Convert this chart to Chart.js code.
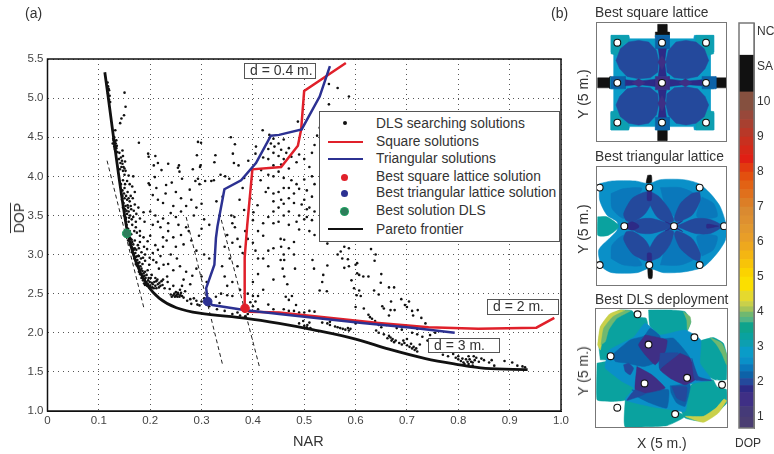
<!DOCTYPE html>
<html lang="en">
<head>
<meta charset="UTF-8">
<title>NAR vs DOP</title>
<style>
    body { margin: 0; background: #fff; font-family: "Liberation Sans", Arial, sans-serif; color: #333; }
    #page { position: relative; width: 774px; height: 454px; overflow: hidden; }
    canvas { position: absolute; }
    .txt { position: absolute; white-space: nowrap; font-size: 14px; line-height: 16px; }
    .rot { transform: translate(-50%, -50%) rotate(-90deg); }
    .panel-frame { position: absolute; border: 1px solid #777; box-sizing: border-box; pointer-events: none; }
    .note { position: absolute; box-sizing: border-box; background: #fff; border: 1.5px solid #555; font-size: 14px; line-height: 13px; padding-left: 5px; white-space: nowrap; }
    #legend { position: absolute; left: 319px; top: 111px; width: 241px; height: 131px; box-sizing: border-box; background: #fff; border: 1px solid #555; }
    #legend .txt { left: 56px; font-size: 13.8px; }
    #legend .dot { position: absolute; left: 21px; width: 7px; height: 7px; border-radius: 50%; }
    #legend .ln { position: absolute; left: 8px; width: 35px; height: 2px; }
</style>
</head>
<body>
<div id="page">
    <canvas id="mainChart" width="572" height="454" style="left:0;top:0"></canvas>
    <canvas id="squareMap" width="130" height="119" style="left:597px;top:23px"></canvas>
    <canvas id="triMap" width="130" height="118" style="left:597px;top:167px"></canvas>
    <canvas id="dlsMap" width="131" height="118" style="left:596px;top:309px"></canvas>
    <canvas id="colorBar" width="39" height="454" style="left:735px;top:0"></canvas>
    <div class="panel-frame" style="left:596px;top:22px;width:131px;height:120px"></div>
    <div class="panel-frame" style="left:596px;top:166px;width:131px;height:120px"></div>
    <div class="panel-frame" style="left:595px;top:308px;width:133px;height:120px"></div>

    <div class="txt" style="left:25px;top:5px;font-size:14px">(a)</div>
    <div class="txt" style="left:551px;top:5px;font-size:14px">(b)</div>
    <div class="txt rot" style="left:19px;top:218px;text-decoration:overline">DOP</div>
    <div class="txt" style="left:293px;top:433px;font-size:14.5px">NAR</div>

    <div class="note" style="left:244px;top:63px;width:72px;height:16px">d = 0.4 m.</div>
    <div class="note" style="left:487px;top:299px;width:72px;height:16px">d = 2 m.</div>
    <div class="note" style="left:428px;top:338px;width:72px;height:15px">d = 3 m.</div>

    <div id="legend">
        <div class="dot" style="left:23px;top:9px;width:4px;height:4px;background:#111"></div>
        <div class="txt" style="top:4px">DLS searching solutions</div>
        <div class="ln" style="top:29px;background:#e0202a"></div>
        <div class="txt" style="top:22px">Square solutions</div>
        <div class="ln" style="top:46px;background:#2c3192"></div>
        <div class="txt" style="top:39px">Triangular solutions</div>
        <div class="dot" style="top:62px;background:#e0202a"></div>
        <div class="txt" style="top:57px">Best square lattice solution</div>
        <div class="dot" style="top:78px;background:#2c3192"></div>
        <div class="txt" style="top:73px">Best triangular lattice solution</div>
        <div class="dot" style="top:96px;background:#2e7d5b;box-shadow:0 0 0 1px #1ba15f"></div>
        <div class="txt" style="top:91px">Best solution DLS</div>
        <div class="ln" style="top:116px;background:#111"></div>
        <div class="txt" style="top:110px">Pareto frontier</div>
    </div>

    <div class="txt" style="left:595px;top:5px;font-size:13.8px">Best square lattice</div>
    <div class="txt" style="left:595px;top:149px;font-size:13.8px">Best triangular lattice</div>
    <div class="txt" style="left:595px;top:292px;font-size:13.8px">Best DLS deployment</div>
    <div class="txt rot" style="left:583px;top:94px">Y (5 m.)</div>
    <div class="txt rot" style="left:583px;top:229px">Y (5 m.)</div>
    <div class="txt rot" style="left:583px;top:371px">Y (5 m.)</div>
    <div class="txt" style="left:637px;top:435px">X (5 m.)</div>
    <div class="txt" style="left:735px;top:435px;font-size:12px">DOP</div>
</div>

<script src="https://cdn.jsdelivr.net/npm/chart.js"></script>
<script>
// panel (a): everything is [NAR, mean DOP]
const squareLine = [[.581,5.45],[.4998,5.09],[.494,4.6],[.4876,4.39],[.455,4.12],[.399,4.09],[.389,3.38],[.384,2.96],[.384,2.32],[.393,2.27],[.451,2.26],[.645,2.125],[.742,2.07],[.839,2.05],[.952,2.065],[.987,2.19]];
const triangleLine = [[.55,5.41],[.53,5.02],[.495,4.6],[.451,4.53],[.435,4.52],[.406,4.17],[.377,3.95],[.3445,3.835],[.331,3.36],[.328,3.21],[.325,2.87],[.309,2.57],[.312,2.4],[.321,2.355],[.383,2.29],[.451,2.24],[.6126,2.125],[.7096,2.065],[.793,2]];
const paretoLine = [[.1116,5.33],[.1537,3.357],[.172,2.91],[.1925,2.63],[.218,2.44],[.251,2.32],[.296,2.25],[.3866,2.185],[.451,2.12],[.516,2.04],[.6,1.92],[.665,1.79],[.736,1.67],[.794,1.6],[.8525,1.545],[.935,1.53]];
const dashedLines = [
    [[.116,4.2],[.188,2.31]],
    [[.27,3.48],[.341,1.59]],
    [[.335,3.53],[.4125,1.57]]
];
const bestSquare = [[.3847,2.313]];
const bestTriangle = [[.312,2.4]];
const bestDls = [[.1543,3.27]];

const dlsUpper = [[.117,5.2],[.118,5.15],[.119,5.12],[.12,5.1],[.118,5.06],[.121,5.03],[.12,4.98],[.122,4.95],[.15,5.07],[.152,4.89],[.149,4.78],[.144,4.74],[.1415,4.68],[.132,4.59],[.13,4.5],[.129,4.46],[.131,4.44],[.133,4.42],[.13,4.38],[.134,4.36],[.132,4.33],[.136,4.31],[.128,4.48],[.127,4.42],[.131,4.35],[.134,4.46],[.135,4.39],[.146,4.33],[.147,4.26],[.145,4.2],[.142,4.17],[.148,4.12],[.15,4.1],[.143,4.24],[.14,4.3],[.139,4.22],[.144,4.12],[.146,4.16],[.141,4.09],[.147,4.07],[.151,4.19],[.152,4.07],[.15,4.02],[.158,4.01],[.167,4.0],[.155,3.94],[.16,3.9],[.165,3.87],[.146,3.82],[.15,3.85],[.156,3.8],[.162,3.75],[.17,3.8],[.146,3.75],[.15,3.72],[.155,3.7],[.16,3.68],[.166,3.72],[.148,3.66],[.152,3.62],[.157,3.6],[.163,3.58],[.17,3.64],[.177,3.6],[.15,3.55],[.155,3.52],[.161,3.5],[.167,3.48],[.173,3.52],[.18,3.46],[.152,3.45],[.158,3.42],[.165,3.38],[.172,3.42],[.187,3.54],[.189,3.42],
    [.147,3.6],[.149,3.5],[.151,3.58],[.153,3.47],[.154,3.56],[.156,3.63],[.158,3.55],[.159,3.47],[.162,3.62],[.164,3.45],[.168,3.56],[.145,3.7],[.149,3.78],[.153,3.75],[.158,3.72],[.143,3.9],[.147,3.95],[.151,3.9]];
const dlsKnee = [[.154,3.38],[.157,3.33],[.16,3.3],[.163,3.26],[.158,3.24],[.162,3.2],[.165,3.16],[.16,3.13],[.164,3.1],[.168,3.06],[.165,3.03],[.168,3.0],[.172,2.97],[.169,2.95],[.173,2.92],[.176,2.89],[.174,2.86],[.178,2.83],[.181,2.8],[.178,2.78],[.183,2.75],[.186,2.72],[.183,2.7],[.189,2.68],[.193,2.65],[.188,2.63],[.196,2.62],[.2,2.6],[.204,2.58],[.21,2.6],[.215,2.62],[.22,2.6],[.212,2.66],[.203,2.64],[.197,2.7],[.19,2.78],[.195,2.8],[.203,2.74],[.185,2.88],[.19,2.92],[.198,2.87],[.178,2.98],[.183,3.03],[.19,3.0],[.176,3.12],[.18,3.16],[.17,3.18],[.174,3.28],[.169,3.3],[.18,3.3],[.187,3.22],[.195,3.17],[.2,3.24],[.21,3.12],[.205,3.02],[.215,3.06],[.225,3.1],[.22,2.98],[.212,2.9],[.206,2.93],[.217,2.82],[.226,2.87],[.233,2.72],[.225,2.68],[.234,2.65],[.228,2.57],[.238,2.56],[.245,2.6],[.24,2.49],[.245,2.48],[.25,2.47],[.255,2.49],[.26,2.51],[.257,2.46],[.262,2.47],[.25,2.52],[.265,2.45],[.258,2.55],[.268,2.53],[.262,2.6],[.272,2.41],[.278,2.43],[.28,2.37],[.285,2.44],[.29,2.41],[.296,2.35],[.3,2.4],[.305,2.44],[.31,2.36],[.292,2.36],[.315,2.34],[.328,2.46],[.335,2.38],[.338,2.5],[.35,2.48],[.36,2.47],[.33,2.3],[.345,2.28],[.36,2.24],[.375,2.22],[.385,2.21],[.39,2.24],[.37,2.26],[.395,2.39],[.4,2.47],[.405,2.4],[.39,2.5],[.41,2.47],[.4,2.34],[.41,2.3],[.43,2.36],[.44,2.3],
    [.157,3.18],[.16,3.22],[.162,3.14],[.164,3.19],[.166,3.08],[.167,3.13],[.17,3.08],[.171,3.02],[.173,3.06],[.175,2.98],[.172,2.88],[.175,2.93],[.177,2.86],[.179,2.9],[.181,2.85],[.18,2.75],[.183,2.82],[.185,2.79],[.187,2.76],[.189,2.73],[.186,2.67],[.191,2.7],[.193,2.74],[.196,2.67],[.199,2.65],[.201,2.7],[.205,2.62],[.208,2.65],[.21,2.7],[.214,2.68],[.218,2.64],[.222,2.66],[.19,2.61],[.194,2.6],[.198,2.58],[.207,2.57],[.212,2.57],[.217,2.58],[.224,2.61],[.178,3.08],[.182,2.95],[.186,2.96],[.18,3.24],[.172,3.35],[.188,3.1],[.194,3.07],[.199,2.96],[.247,2.5],[.252,2.49],[.248,2.46],[.253,2.46],[.242,2.46],[.259,2.48],[.254,2.51]];
const dlsCloud = [[.178,4.43],[.196,4.29],[.197,4.25],[.21,4.26],[.207,4.14],[.215,4.17],[.235,4.16],[.222,4.08],[.209,3.99],[.197,3.91],[.199,3.89],[.212,3.85],[.231,3.89],[.242,3.92],[.256,4.14],[.254,4.11],[.257,4.06],[.262,3.97],[.293,4.44],[.299,4.43],[.291,4.27],[.298,4.14],[.297,4.12],[.283,4.09],[.293,3.97],[.288,3.94],[.277,3.83],[.296,3.9],[.307,3.94],[.319,3.94],[.324,3.95],[.327,4.27],[.325,4.18],[.337,4.02],[.346,4],[.357,4.5],[.365,4.41],[.361,4.29],[.363,4.17],[.372,4.14],[.391,4.2],[.383,3.98],[.354,3.97],[.341,3.74],[.329,3.68],[.374,3.7],[.383,3.57],[.335,3.5],[.358,3.5],[.364,3.48],[.419,4.59],[.432,4.53],[.406,4.38],[.405,4.29],[.416,4.08],[.409,3.63],[.401,3.54],
    [.2,3.55],[.21,3.5],[.215,3.42],[.225,3.46],[.235,3.4],[.205,3.38],[.22,3.35],[.24,3.53],[.25,3.48],[.255,3.38],[.27,3.35],[.275,3.3],[.28,3.7],[.26,3.72],[.27,3.62],[.29,3.6],[.285,3.5],[.3,3.65],[.305,3.45],[.315,3.38],[.3,3.33],[.295,3.24],[.28,3.18],[.265,3.13],[.25,3.1],[.245,3.22],[.26,3.25],[.235,3.3],[.232,3.18],[.225,3.22],[.24,3.0],[.252,2.95],[.235,2.88],[.245,2.8],[.258,2.85],[.27,2.78],[.282,2.73],[.29,2.82],[.265,2.68],[.278,2.62],[.3,2.72],[.31,2.65],[.305,3.0],[.315,2.95],[.29,3.05],[.35,3.25],[.36,3.15],[.345,3.1],[.355,2.95],[.37,2.85],[.34,2.85],[.345,2.72],[.36,2.65],[.375,3.1],[.38,3.02],[.365,3.35],[.375,2.55],[.35,2.6],
    [.41,3.3],[.42,3.24],[.4,3.15],[.405,3.05],[.41,2.95],[.43,3.05],[.44,3.08],[.42,2.95],[.43,2.85],[.41,2.75],[.4,2.65],[.44,2.68],[.42,2.55],[.455,3.1],[.46,3],
    [.44,4.48],[.45,4.42],[.46,4.47],[.47,4.36],[.43,4.35],[.44,4.3],[.45,4.26],[.46,4.22],[.42,4.24],[.43,4.22],[.45,4.06],[.44,4.0],[.46,3.98],[.43,4.02],[.47,4.1],[.475,3.95],[.485,3.9],[.49,3.84],[.46,3.85],[.45,3.8],[.44,3.78],[.43,3.85],[.425,3.8],[.47,3.72],[.48,3.66],[.46,3.65],[.45,3.6],[.44,3.55],[.47,3.55],[.49,3.5],[.5,3.45],[.43,3.48],[.45,3.42],[.47,3.38],[.49,3.32],[.51,3.3],[.52,3.25],[.505,3.48],[.515,3.44],[.52,3.55],[.51,3.6],[.5,3.7],[.515,3.74],[.505,3.82],[.52,3.9],[.5,3.96],[.515,4.0],[.51,4.12],[.5,4.22],[.49,4.28],[.515,4.3],[.52,4.4],[.525,4.52],[.53,4.62],[.548,5.18],[.565,5.13],[.587,5.02],[.548,4.92],[.4876,4.7],[.38,3.85],[.395,3.72],[.415,3.95],[.4,3.44],[.42,3.4],
    [.435,4.42],[.442,4.38],[.455,4.34],[.465,4.3],[.475,4.25],[.485,4.18],[.44,4.14],[.455,4.15],[.47,3.85],[.48,3.78],[.455,3.7],[.44,3.68],[.495,3.64],[.505,3.58],[.485,3.42],[.46,3.5],[.44,3.4],[.36,3.4],[.385,3.3],[.39,3.2],[.37,3.2],[.225,3.66],[.245,3.62],[.26,3.55],[.215,3.7],[.205,3.76],[.23,3.78],[.25,3.8],
    [.454,3.2],[.461,3.19],[.48,3.16],[.47,3.08],[.48,3],[.454,2.93],[.461,2.93],[.516,2.93],[.519,2.82],[.482,2.82],[.458,2.82],[.461,2.72],[.467,2.62],[.464,2.46],[.476,2.47],[.47,2.42],[.484,2.355],[.545,3.14],[.571,3.04],[.578,3.1],[.587,3.08],[.565,3],[.574,2.95],[.585,2.94],[.545,2.86],[.578,2.83],[.587,2.85],[.603,2.89],[.6,2.87],[.537,2.74],[.535,2.65],[.53,2.54],[.544,2.53],[.603,2.76],[.607,2.74],[.615,2.72],[.625,2.72],[.592,2.67],[.597,2.57],[.607,2.54],[.602,2.48],[.61,2.47],[.6,2.33],[.616,2.31],[.63,3.07],[.639,3],[.637,2.92],[.65,2.75],[.649,2.64],[.636,2.54],[.645,2.49],[.665,2.58],[.675,2.58],[.669,2.4],[.652,2.34],[.655,2.31],[.668,2.29],[.676,2.29],[.665,2.22],[.689,2.43],[.696,2.355],[.704,2.4],[.7,2.33],[.721,2.29],[.71,2.28],[.712,2.22],[.728,2.19],[.736,2.12]];
const dlsLower = [[.46,2.3],[.47,2.28],[.48,2.28],[.49,2.26],[.5,2.26],[.51,2.28],[.52,2.27],[.49,2.12],[.5,2.09],[.505,2.07],[.51,2.13],[.498,2.15],[.506,2.1],[.512,2.06],[.535,2.13],[.545,2.12],[.55,2.1],[.56,2.08],[.565,2.07],[.575,2.05],[.58,2.04],[.587,2.03],[.585,2.06],[.57,2.06],[.55,2.14],[.59,2.05],[.6,2.12],[.61,2.14],[.625,2.23],[.628,2.2],[.632,2.18],[.638,2.15],[.645,2.1],[.64,2.03],[.645,2.0],[.65,2.07],[.655,1.98],[.662,1.93],[.67,1.9],[.675,1.88],[.665,1.96],[.685,1.87],[.69,1.85],[.693,1.9],[.7,1.92],[.705,1.82],[.71,1.8],[.715,1.78],[.72,1.76],[.725,1.85],[.72,1.98],[.73,1.95],[.74,1.9],[.745,1.97],[.755,2.0],[.76,1.8],[.77,1.72],[.78,1.7],[.79,1.73],[.795,1.68],[.8,1.66],[.805,1.64],[.81,1.62],[.82,1.6],[.825,1.63],[.83,1.7],[.82,1.7],[.815,1.66],[.828,1.58],[.835,1.68],[.845,1.67],[.85,1.65],[.86,1.62],[.87,1.58],[.865,1.65],[.89,1.64],[.905,1.62],[.915,1.58],[.925,1.57],[.93,1.56],[.72,2.05],[.71,2.0],[.69,2.04],[.68,2.06],[.66,2.1],
    [.668,1.94],[.672,1.92],[.678,1.9],[.695,1.87],[.7,1.84],[.708,1.86],[.713,1.82],[.718,1.8],[.8,1.7],[.808,1.67],[.812,1.6],[.818,1.63],[.822,1.66],[.828,1.62],[.832,1.65],[.84,1.63]];

// colour scale of panel (b): DOP band limits and the colour of each band
const barBands = [.686,1,1.3,1.7,1.9,2.1,2.3,2.5,2.7,3,3.2,3.4,3.7,3.85,4,4.15,4.3,4.6,5,5.25,5.5,5.75,6,6.25,6.5,6.75,7,7.25,7.5,7.75,8,8.25,8.5,8.75,9,9.25,9.5,9.75,10.29,11.34,12.26];
const barColors = ['#4a3d72','#453a78','#3f2f85','#2d2a86','#24499c','#0d62a8','#0a78bb','#0a90c8','#0a9cc8','#0d9fb0','#0aa29f','#0ea38c','#53b485','#70b870','#a5c458','#c9d04a','#e5d92e','#fbdf00','#fbd300','#f8c408','#f4b612','#eea81e','#e89e28','#e2982e','#de9030','#da8a30','#dc7e26','#e0701c','#e26214','#e3500f','#e23a10','#e01f14','#d52818','#c8301f','#b83828','#a84030','#98483a','#85503f','#111111','#ffffff'];
const barTicks = [1,2,3,4,5,6,7,8,9,10,11,12];
const barLabels = {11: 'SA', 12: 'NC'};

// panel (b) maps: regions of equal DOP, corners in map units, later ones paint over earlier ones
const squareRegions = [
    [11,[[262,72],[290,72],[290,95],[297,95],[297,110],[255,110],[255,95],[262,95]]],
    [11,[[262,385],[290,385],[290,420],[262,420]]],
    [11,[[82,232],[115,232],[120,228],[120,265],[115,262],[82,262]]],
    [11,[[437,232],[470,232],[470,262],[437,262]]],
    [2.7,[[122,105],[175,105],[178,115],[255,115],[255,105],[297,105],[297,115],[370,115],[372,105],[430,105],[430,155],[420,157],[420,230],[430,230],[430,265],[420,265],[420,335],[430,337],[430,388],[372,388],[370,378],[297,378],[297,388],[255,388],[255,378],[178,378],[175,388],[122,388],[122,337],[130,335],[130,265],[120,265],[120,230],[130,230],[130,157],[122,155]]],
    [3.1,[[122,105],[175,105],[175,125],[160,130],[150,150],[140,165],[122,160]]],
    [3.1,[[430,105],[377,105],[377,125],[392,130],[402,150],[412,165],[430,160]]],
    [3.1,[[122,388],[175,388],[175,368],[160,363],[150,343],[140,330],[122,333]]],
    [3.1,[[430,388],[377,388],[377,368],[392,363],[402,343],[412,330],[430,333]]],
    [2,[[175,125],[205,120],[235,125],[258,150],[265,180],[262,215],[240,232],[205,235],[170,228],[148,205],[137,180],[150,145]]],
    [2,[[377,125],[347,120],[317,125],[294,150],[287,180],[290,215],[312,232],[347,235],[382,228],[404,205],[415,180],[402,145]]],
    [2,[[175,368],[205,373],[235,368],[258,343],[265,313],[262,280],[240,262],[205,259],[170,265],[148,288],[137,313],[150,348]]],
    [2,[[377,368],[347,373],[317,368],[294,343],[287,313],[290,280],[312,262],[347,259],[382,265],[404,288],[415,313],[402,348]]],
    [2.2,[[255,105],[297,105],[297,145],[255,145]]],
    [2.2,[[255,350],[297,350],[297,388],[255,388]]],
    [2.2,[[122,228],[165,228],[165,265],[122,265]]],
    [2.2,[[395,228],[437,228],[437,265],[395,265]]],
    [1.8,[[264,145],[288,145],[283,185],[288,228],[264,228],[269,185]]],
    [1.8,[[264,350],[288,350],[283,310],[288,268],[264,268],[269,310]]],
    [1.8,[[165,238],[205,242],[255,236],[255,258],[205,252],[165,256]]],
    [1.8,[[395,238],[345,242],[297,236],[297,258],[345,252],[395,256]]],
    [1.5,[[275,165],[287,185],[275,208],[263,185]]],
    [1.5,[[275,285],[287,308],[275,332],[263,308]]],
    [1.5,[[205,235],[225,247],[205,259],[185,247]]],
    [1.5,[[345,235],[365,247],[345,259],[325,247]]],
    [1.5,[[255,228],[297,228],[297,268],[255,268]]]
];
const squareSensors = [[141,127],[275,127],[407,127],[141,247],[275,247],[407,247],[141,366],[275,366],[407,366]];

const triRegions = [
    [11,[[232,75],[243,75],[243,100],[228,100]]],
    [11,[[232,355],[245,355],[245,385],[235,385]]],
    [2.6,[[88,100],[125,92],[195,92],[235,100],[270,88],[340,88],[385,100],[420,130],[450,170],[468,228],[465,270],[440,310],[400,350],[345,365],[280,368],[237,355],[200,368],[125,368],[95,350],[85,300],[120,262],[140,240],[140,215],[110,195],[88,150]]],
    [3.3,[[82,200],[110,200],[145,228],[115,255],[82,255]]],
    [2.4,[[122,130],[160,115],[215,115],[175,170],[160,205],[125,175]]],
    [2.4,[[122,325],[160,345],[215,345],[175,290],[160,255],[125,285]]],
    [2.4,[[270,112],[330,112],[375,135],[340,190],[315,200],[285,165]]],
    [2.4,[[270,345],[330,345],[375,322],[340,265],[315,255],[285,295]]],
    [2.4,[[395,140],[430,160],[440,200],[380,200]]],
    [2.4,[[395,318],[430,298],[440,258],[380,258]]],
    [2,[[237,122],[245,150],[225,190],[190,215],[168,212],[160,190],[185,145],[215,128]]],
    [2,[[237,122],[265,138],[295,175],[310,212],[290,218],[260,200],[240,165],[232,140]]],
    [2,[[388,125],[390,150],[365,195],[320,215],[312,205],[330,160],[365,130]]],
    [2,[[172,228],[205,208],[245,205],[305,228],[245,250],[205,248]]],
    [2,[[318,228],[375,205],[420,208],[455,228],[420,250],[375,250]]],
    [2,[[237,335],[215,328],[185,310],[160,268],[168,245],[190,245],[225,270],[245,310]]],
    [2,[[237,335],[270,320],[298,285],[310,245],[290,240],[260,258],[240,290],[232,315]]],
    [2,[[388,335],[390,310],[365,265],[320,242],[312,252],[330,295],[365,325]]],
    [1.8,[[285,215],[311,222],[337,212],[318,228],[337,244],[311,234],[285,242],[304,228]]],
    [1.8,[[232,112],[242,112],[243,150],[231,150]]],
    [1.8,[[232,345],[242,345],[243,310],[231,310]]],
    [1.8,[[150,228],[185,215],[205,225],[205,232],[185,240]]],
    [1.8,[[445,228],[410,222],[410,234]]]
];
const triSensors = [[88,112],[237,112],[388,112],[162,228],[311,228],[461,228],[88,345],[237,345],[388,345]];

const dlsRegions = [
    [3.35,[[90,180],[85,130],[92,80],[120,45],[150,30],[185,32],[200,50],[228,55],[235,100],[200,150],[125,180]]],
    [4.2,[[82,135],[90,80],[118,42],[150,30],[165,32],[130,50],[105,85],[95,125],[90,150]]],
    [3.85,[[92,135],[100,85],[128,50],[165,32],[180,33],[140,55],[115,90],[105,125]]],
    [3.35,[[235,30],[300,30],[345,35],[362,65],[345,105],[300,130],[240,80]]],
    [3.85,[[340,35],[360,50],[362,68],[352,90],[350,60]]],
    [3.35,[[392,122],[430,113],[460,130],[470,165],[470,238],[435,240],[380,210],[375,160]]],
    [3.85,[[420,113],[455,130],[470,165],[470,195],[455,160],[440,135]]],
    [3.35,[[430,240],[442,262],[470,270],[470,310],[440,340],[400,365],[345,355],[330,320],[360,260],[380,240]]],
    [4.2,[[470,303],[445,340],[400,368],[345,350],[400,350],[438,325],[462,298]]],
    [3.3,[[165,298],[230,300],[300,325],[345,350],[290,378],[165,382]]],
    [3.3,[[80,190],[120,185],[170,240],[200,270],[170,300],[130,305],[80,300]]],
    [2.6,[[105,190],[118,150],[190,112],[225,70],[270,105],[345,90],[392,120],[390,190],[425,240],[400,245],[360,255],[345,335],[290,328],[240,320],[165,300],[190,265],[155,245],[105,205]]],
    [2.2,[[125,165],[180,120],[222,108],[240,85],[270,110],[250,190],[220,200],[170,190],[135,185]]],
    [2.2,[[265,120],[310,115],[360,175],[340,215],[270,210]]],
    [2.2,[[300,258],[360,255],[345,320],[320,310],[303,280]]],
    [2.2,[[185,270],[230,275],[295,270],[290,325],[240,310],[200,290]]],
    [2,[[160,195],[175,190],[190,205],[180,225],[165,215]]],
    [2,[[305,260],[350,262],[345,305],[320,295]]],
    [1.5,[[225,105],[290,120],[285,155],[255,195],[225,165],[205,135]]],
    [1.5,[[330,160],[360,175],[380,235],[345,255],[300,235],[270,210],[290,190]]],
    [1.5,[[200,200],[245,225],[285,265],[225,280],[195,270]]],
    [1.9,[[365,175],[385,230],[425,242],[375,240]]],
    [1.9,[[270,160],[325,160],[290,190],[268,205]]],
    [1.9,[[195,270],[225,282],[170,302],[185,280]]]
];
const dlsSensors = [[202,43],[373,112],[235,134],[121,169],[351,234],[456,255],[223,251],[141,324],[315,343]];

function dopColor(v) {
    for (let i = 0; i < barColors.length; i++) {
        if (v < barBands[i + 1]) return barColors[i];
    }
    return barColors[barColors.length - 1];
}

function toXY(pts) {
    return pts.map(p => ({ x: p[0], y: p[1] }));
}

const axisFont = { family: '"Liberation Sans", Arial, sans-serif', size: 11.5 };

// the frame round the plot
const framePlugin = {
    id: 'frame',
    afterDraw(chart, args, opts) {
        const a = chart.chartArea, c = chart.ctx;
        c.save();
        c.strokeStyle = opts.color;
        c.lineWidth = 1.5;
        c.strokeRect(a.left, a.top, a.right - a.left, a.bottom - a.top);
        c.restore();
    }
};

const lineSet = (label, pts, color, width, order, tension) => ({
    label, data: toXY(pts), showLine: true, borderColor: color, borderWidth: width,
    pointRadius: 0, tension: tension || 0, order
});
const bestSet = (label, pts, color, edge, order) => ({
    label, data: toXY(pts), pointRadius: 4.3, backgroundColor: color, borderColor: edge,
    borderWidth: 1, order
});

new Chart(document.getElementById('mainChart'), {
    type: 'scatter',
    data: {
        datasets: [
            bestSet('Best solution DLS', bestDls, '#2e7d5b', '#1ba15f', 1),
            bestSet('Best square lattice solution', bestSquare, '#e0202a', '#e0202a', 1),
            bestSet('Best triangular lattice solution', bestTriangle, '#2c3192', '#2c3192', 1),
            lineSet('Square solutions', squareLine, '#e0202a', 2.5, 3),
            lineSet('Triangular solutions', triangleLine, '#2c3192', 2.5, 2),
            lineSet('Pareto frontier', paretoLine, '#111', 2.8, 4, .35),
            { label: 'DLS searching solutions', data: toXY([...dlsUpper, ...dlsKnee, ...dlsCloud, ...dlsLower]), pointRadius: 1.3, backgroundColor: '#111', borderWidth: 0, order: 6 },
            ...dashedLines.map((d, i) => ({ label: 'd' + i, data: toXY(d), showLine: true, borderColor: '#222', borderWidth: 1, borderDash: [4, 3], pointRadius: 0, order: 5 }))
        ]
    },
    options: {
        responsive: false,
        animation: false,
        layout: { autoPadding: false, padding: { top: 59, right: 9, left: 0, bottom: 0 } },
        plugins: { legend: { display: false }, tooltip: { enabled: false }, frame: { color: '#111' } },
        scales: {
            x: {
                min: 0, max: 1,
                ticks: { stepSize: .1, color: '#444', font: axisFont, padding: 3 },
                grid: { color: '#555', drawTicks: false },
                border: { color: '#111', dash: [1, 4], width: 1 },
                afterFit(s) { s.height = 43; }
            },
            y: {
                min: 1, max: 5.5,
                ticks: { stepSize: .5, color: '#444', font: axisFont, padding: 4 },
                grid: { color: '#555', drawTicks: false },
                border: { color: '#111', dash: [1, 4], width: 1 },
                afterFit(s) { s.width = 47.5; }
            }
        }
    },
    plugins: [framePlugin]
});

function drawMap(id, regions, sensors, xRange, yRange, tension) {
    const n = regions.length;
    const sets = regions.map((r, i) => ({
        data: toXY(r[1].concat([r[1][0]])), showLine: true, fill: 'shape', tension,
        backgroundColor: dopColor(r[0]), borderColor: dopColor(r[0]), borderWidth: .5,
        pointRadius: 0, order: n - i + 1
    }));
    sets.push({
        data: toXY(sensors), pointRadius: 3.4, backgroundColor: '#fff',
        borderColor: '#111', borderWidth: 1.1, order: 0
    });
    new Chart(document.getElementById(id), {
        type: 'scatter',
        data: { datasets: sets },
        options: {
            responsive: false,
            animation: false,
            layout: { autoPadding: false },
            plugins: { legend: { display: false }, tooltip: { enabled: false }, filler: { drawTime: 'beforeDatasetDraw' } },
            scales: {
                x: { display: false, min: xRange[0], max: xRange[1] },
                y: { display: false, reverse: true, min: yRange[0], max: yRange[1] }
            }
        }
    });
}

drawMap('squareMap', squareRegions, squareSensors, [80, 470], [68, 424], 0);
drawMap('triMap', triRegions, triSensors, [80, 470], [50, 405], .25);
drawMap('dlsMap', dlsRegions, dlsSensors, [77, 471], [27, 382], .15);

new Chart(document.getElementById('colorBar'), {
    type: 'bar',
    data: {
        labels: ['DOP'],
        datasets: barColors.map((c, i) => ({
            data: [[barBands[i], barBands[i + 1]]], backgroundColor: c, borderWidth: 0,
            barPercentage: 1, categoryPercentage: 1, grouped: false
        }))
    },
    options: {
        responsive: false,
        animation: false,
        layout: { autoPadding: false, padding: { top: 23, bottom: 26, left: 4 } },
        plugins: { legend: { display: false }, tooltip: { enabled: false }, frame: { color: '#777' } },
        scales: {
            x: { display: false },
            y: {
                position: 'right', min: .686, max: 12.26,
                afterBuildTicks(s) { s.ticks = barTicks.map(v => ({ value: v })); },
                ticks: { autoSkip: false, color: '#333', font: { family: axisFont.family, size: 12 }, padding: 3, callback: v => barLabels[v] || v },
                grid: { drawOnChartArea: false, drawTicks: false },
                border: { color: '#777', width: 1 },
                afterFit(s) { s.width = 20; }
            }
        }
    },
    plugins: [framePlugin]
});
</script>
</body>
</html>
